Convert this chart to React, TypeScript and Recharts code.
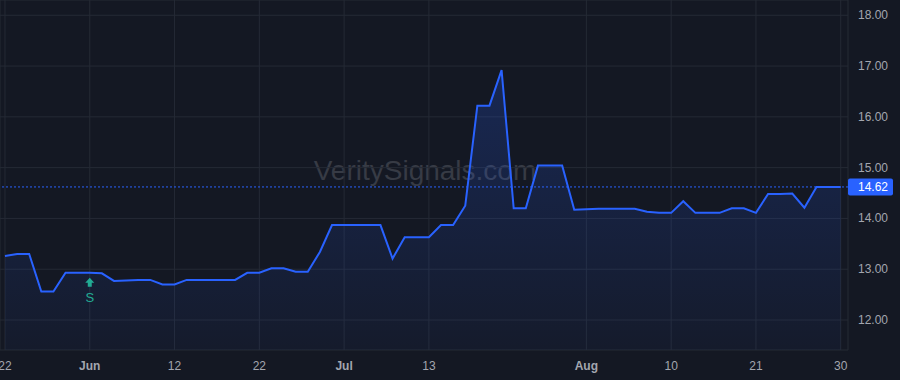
import { AreaChart, Area, XAxis, YAxis, CartesianGrid, ReferenceLine, ReferenceDot } from 'recharts';

// trading days shown, grouped by month
const mayDays = [22, 23, 24, 25, 26, 30, 31];
const junDays = [1, 2, 5, 6, 7, 8, 9, 12, 13, 14, 15, 16, 20, 21, 22, 23, 26, 27, 28, 29, 30];
const julDays = [3, 5, 6, 7, 10, 11, 12, 13, 14, 17, 18, 19, 20, 21, 24, 25, 26, 27, 28, 31];
const augDays = [1, 2, 3, 4, 7, 8, 9, 10, 11, 14, 15, 16, 17, 18, 21, 22, 23, 24, 25, 28, 29, 30];

const closes = [
  13.26, 13.3, 13.3, 12.56, 12.56, 12.93, 12.93, 12.93, 12.92, 12.77,
  12.78, 12.79, 12.79, 12.7, 12.7, 12.79, 12.79, 12.79, 12.79, 12.79,
  12.93, 12.93, 13.02, 13.02, 12.95, 12.95, 13.34, 13.87, 13.87, 13.87,
  13.87, 13.87, 13.21, 13.63, 13.63, 13.63, 13.87, 13.87, 14.25, 16.22,
  16.22, 16.92, 14.2, 14.2, 15.04, 15.04, 15.04, 14.17, 14.18, 14.19,
  14.19, 14.19, 14.19, 14.13, 14.11, 14.11, 14.34, 14.11, 14.11, 14.11,
  14.2, 14.2, 14.11, 14.48, 14.48, 14.49, 14.21, 14.62, 14.62, 14.62,
];

const xTicks = [0, 7, 14, 21, 28, 35, 48, 55, 62, 69];
const yTicks = [12, 13, 14, 15, 16, 17, 18];
const lastPrice = 14.62;
const signalIndex = 7;
const signalLabel = 'S';

const tradingDays = [
  ...mayDays.map((day) => ({ month: 'May', day })),
  ...junDays.map((day) => ({ month: 'Jun', day })),
  ...julDays.map((day) => ({ month: 'Jul', day })),
  ...augDays.map((day) => ({ month: 'Aug', day })),
];

const data = closes.map((close, i) => ({ idx: i, close }));

const FONT = '"Liberation Sans", Arial, sans-serif';
const BLUE = '#2962ff';
const TEXT = '#a3a6af';

function XTick({ x, y, payload }: any) {
  const i = payload.value;
  const d = tradingDays[i];
  const monthStart = i > 0 && tradingDays[i - 1].month !== d.month;
  return (
    <text x={x} y={y} dy={20} textAnchor="middle" fill={TEXT} fontSize={12} fontFamily={FONT} fontWeight={monthStart ? 700 : 400}>
      {monthStart ? d.month : d.day}
    </text>
  );
}

function YTick({ x, y, payload }: any) {
  return (
    <text x={x + 10} y={y} dy={4} textAnchor="start" fill={TEXT} fontSize={12} fontFamily={FONT}>
      {payload.value.toFixed(2)}
    </text>
  );
}

function PriceTag({ viewBox }: any) {
  const left = viewBox.x + viewBox.width;
  return (
    <g>
      <rect x={left} y={viewBox.y - 8.5} width={45} height={17} rx={2} fill={BLUE} />
      <text x={left + 10} y={viewBox.y} dy={4.5} fill="#fff" fontSize={12} fontFamily={FONT}>
        {lastPrice.toFixed(2)}
      </text>
    </g>
  );
}

function SignalMark({ cx, cy }: any) {
  const color = '#22ab94';
  const top = cy + 5;
  return (
    <g>
      <path
        d={`M${cx} ${top} L${cx + 4.5} ${top + 5} L${cx + 2} ${top + 5} L${cx + 2} ${top + 9} L${cx - 2} ${top + 9} L${cx - 2} ${top + 5} L${cx - 4.5} ${top + 5} Z`}
        fill={color}
      />
      <text x={cx} y={cy + 29} textAnchor="middle" fill={color} fontSize={13} fontFamily={FONT}>
        {signalLabel}
      </text>
    </g>
  );
}

export default function App() {
  return (
    <div style={{ position: 'relative', width: 900, height: 380, background: '#141823', overflow: 'hidden' }}>
      <style>{`body{margin:0}`}</style>
      <div
        style={{
          position: 'absolute',
          left: 0,
          width: 850,
          top: 155,
          textAlign: 'center',
          fontFamily: FONT,
          fontSize: 28,
          color: '#373b45',
        }}
      >
        VeritySignals.com
      </div>
      <div style={{ position: 'absolute', left: 0, top: 0 }}>
        <AreaChart width={900} height={380} data={data} margin={{ top: 0, right: 0, bottom: 0, left: 0 }}>
          <defs>
            <linearGradient id="areaFill" x1="0" y1="0" x2="0" y2="1">
              <stop offset="0%" stopColor={BLUE} stopOpacity={0.22} />
              <stop offset="100%" stopColor={BLUE} stopOpacity={0.04} />
            </linearGradient>
          </defs>
          <CartesianGrid stroke="#252a35" strokeWidth={1} />
          <XAxis
            dataKey="idx"
            type="number"
            domain={[-0.41, 69.6]}
            allowDataOverflow
            ticks={xTicks}
            interval={0}
            axisLine={false}
            tickLine={false}
            tickSize={0}
            tickMargin={0}
            tick={<XTick />}
            height={30}
          />
          <YAxis
            orientation="right"
            type="number"
            domain={[11.41, 18.3]}
            allowDataOverflow
            ticks={yTicks}
            interval={0}
            axisLine={false}
            tickLine={false}
            tickSize={0}
            tickMargin={0}
            tick={<YTick />}
            width={52}
          />
          <ReferenceLine y={lastPrice} stroke={BLUE} strokeDasharray="2 2" label={<PriceTag />} />
          <Area
            type="linear"
            dataKey="close"
            stroke={BLUE}
            strokeWidth={2}
            fill="url(#areaFill)"
            fillOpacity={1}
            dot={false}
            activeDot={false}
            isAnimationActive={false}
          />
          <ReferenceDot x={signalIndex} y={closes[signalIndex]} r={0} shape={<SignalMark />} />
        </AreaChart>
      </div>
    </div>
  );
}
